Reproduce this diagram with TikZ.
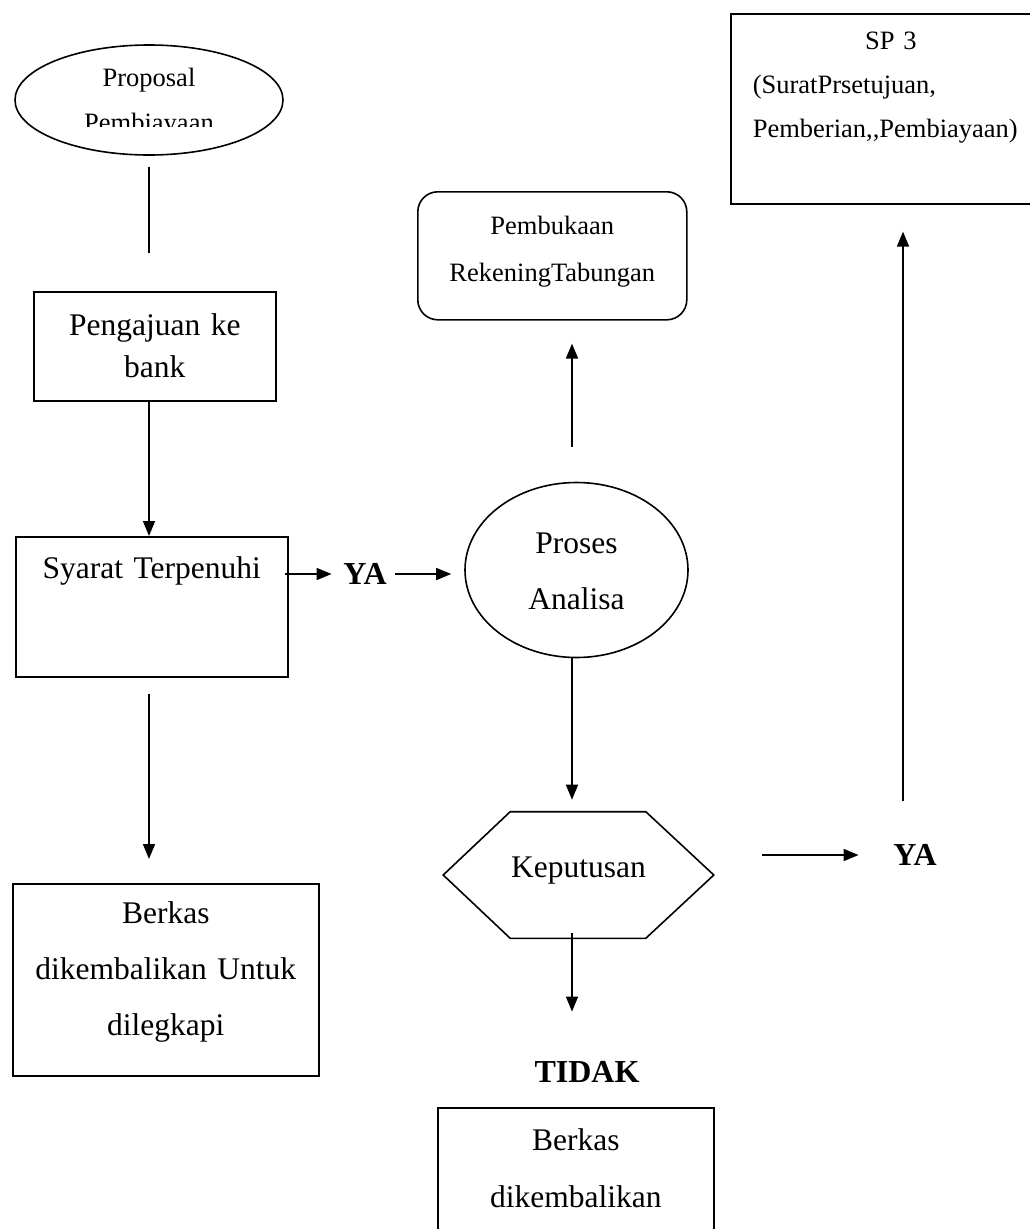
\documentclass[tikz,border=0pt]{standalone}
\usepackage{fontspec}
\setmainfont{Liberation Serif}
\usetikzlibrary{arrows.meta,shapes.geometric}

\begin{document}
\begin{tikzpicture}[x=1pt,y=-1pt,line width=1.6pt,
    big/.style={font=\fontsize{31.5}{56}\selectfont},
    small/.style={font=\fontsize{26.5}{45}\selectfont},
    kotak/.style={draw,anchor=north west,inner sep=0pt,align=center},
    jawab/.style={font=\fontsize{32}{40}\selectfont\bfseries,inner sep=0pt},
    panah/.style={-{Triangle[length=15pt,width=12pt]}}]
    \useasboundingbox (0,0) rectangle (1030,1229);
    \clip (0,0) rectangle (1030,1229);
    % kolom kiri
    \node[draw,ellipse,minimum width=268pt,minimum height=110pt,inner sep=0pt] (proposal) at (149,100) {};
    \begin{scope}
        \clip (0,0) rectangle (300,126.5);
        \node[small,text width=200pt,align=center,inner sep=0pt,anchor=base] (proposaltext) at (149,86.5) {Proposal\\Pembiayaan};
    \end{scope}
    \node[kotak,text width=242pt,text height=44pt,text depth=65pt,font=\fontsize{31.5}{42}\selectfont] (pengajuan) at (33,291) {Pengajuan ke\\bank};
    \node[kotak,big,text width=272pt,text height=42pt,text depth=98pt] (syarat) at (15,536) {Syarat Terpenuhi};
    \node[kotak,big,text width=306pt,text height=40pt,text depth=152pt] (berkaskiri) at (12,883) {Berkas\\dikembalikan Untuk\\dilegkapi};
    \draw[shorten <=11pt,shorten >=38pt] (proposal.south) -- (pengajuan.north -| proposal);
    \draw[panah] (pengajuan.south -| proposal) -- (syarat.north -| proposal);
    \draw[panah,shorten <=16pt,shorten >=24pt] (syarat.south -| proposal) -- (berkaskiri.north -| proposal);
    % kolom tengah
    \node[jawab] (ya1) at (365,574) {YA};
    \node[draw,ellipse,big,minimum width=223pt,minimum height=175pt,inner sep=0pt,text width=120pt,align=center,text height=27pt,text depth=61pt] (proses) at (576.5,570) {Proses\\Analisa};
    \node[kotak,rounded corners=20pt,text width=269pt,text height=42.5pt,text depth=85.5pt,font=\fontsize{26.5}{47}\selectfont] (pembukaan) at (417,191) {Pembukaan\\RekeningTabungan};
    \node[big,minimum width=269pt,minimum height=125pt,inner sep=0pt,text height=22pt,text depth=18pt] (keputusan) at (578.5,875) {Keputusan};
    \draw (keputusan.west) -- ([xshift=67pt]keputusan.north west) -- ([xshift=-68pt]keputusan.north east) -- (keputusan.east)
        -- ([xshift=-68pt]keputusan.south east) -- ([xshift=67pt]keputusan.south west) -- cycle;
    \node[jawab] (tidak) at (587,1072) {TIDAK};
    \node[kotak,text width=276pt,text height=43pt,text depth=100pt,font=\fontsize{31.5}{57}\selectfont] (berkasbawah) at (437,1107) {Berkas\\dikembalikan};
    \draw[panah,shorten <=-4pt,shorten >=11pt] (syarat.east |- ya1) -- (ya1);
    \draw[panah,shorten <=8pt,shorten >=13pt] (ya1) -- (proses.west |- ya1);
    \draw[panah,shorten <=35pt,shorten >=23pt] ([xshift=-4.5pt]proses.north) -- ([xshift=-4.5pt]proses.north |- pembukaan.south);
    \draw[panah,shorten >=12pt] ([xshift=-4.5pt]proses.south) -- ([xshift=-4.5pt]proses.south |- keputusan.north);
    \draw[panah,shorten <=-5pt,shorten >=49pt] ([xshift=-6.5pt]keputusan.south) -- ([xshift=-6.5pt]keputusan.south |- tidak.north);
    % kolom kanan
    \node[jawab] (ya2) at (915,855) {YA};
    \node[kotak,align=left,text width=276pt,inner xsep=22pt,text height=35.5pt,text depth=154.5pt,font=\fontsize{26.5}{44}\selectfont] (sp3) at (730,13) {\makebox[\linewidth]{SP 3}\\(SuratPrsetujuan,\\Pemberian,{},Pembiayaan)};
    \draw[panah,shorten <=48pt,shorten >=34pt] (keputusan.east |- ya2) -- (ya2);
    \draw[panah,shorten <=43pt,shorten >=27pt] ([xshift=-12pt]ya2.north) -- ([xshift=-12pt]ya2.north |- sp3.south);
\end{tikzpicture}
\end{document}
